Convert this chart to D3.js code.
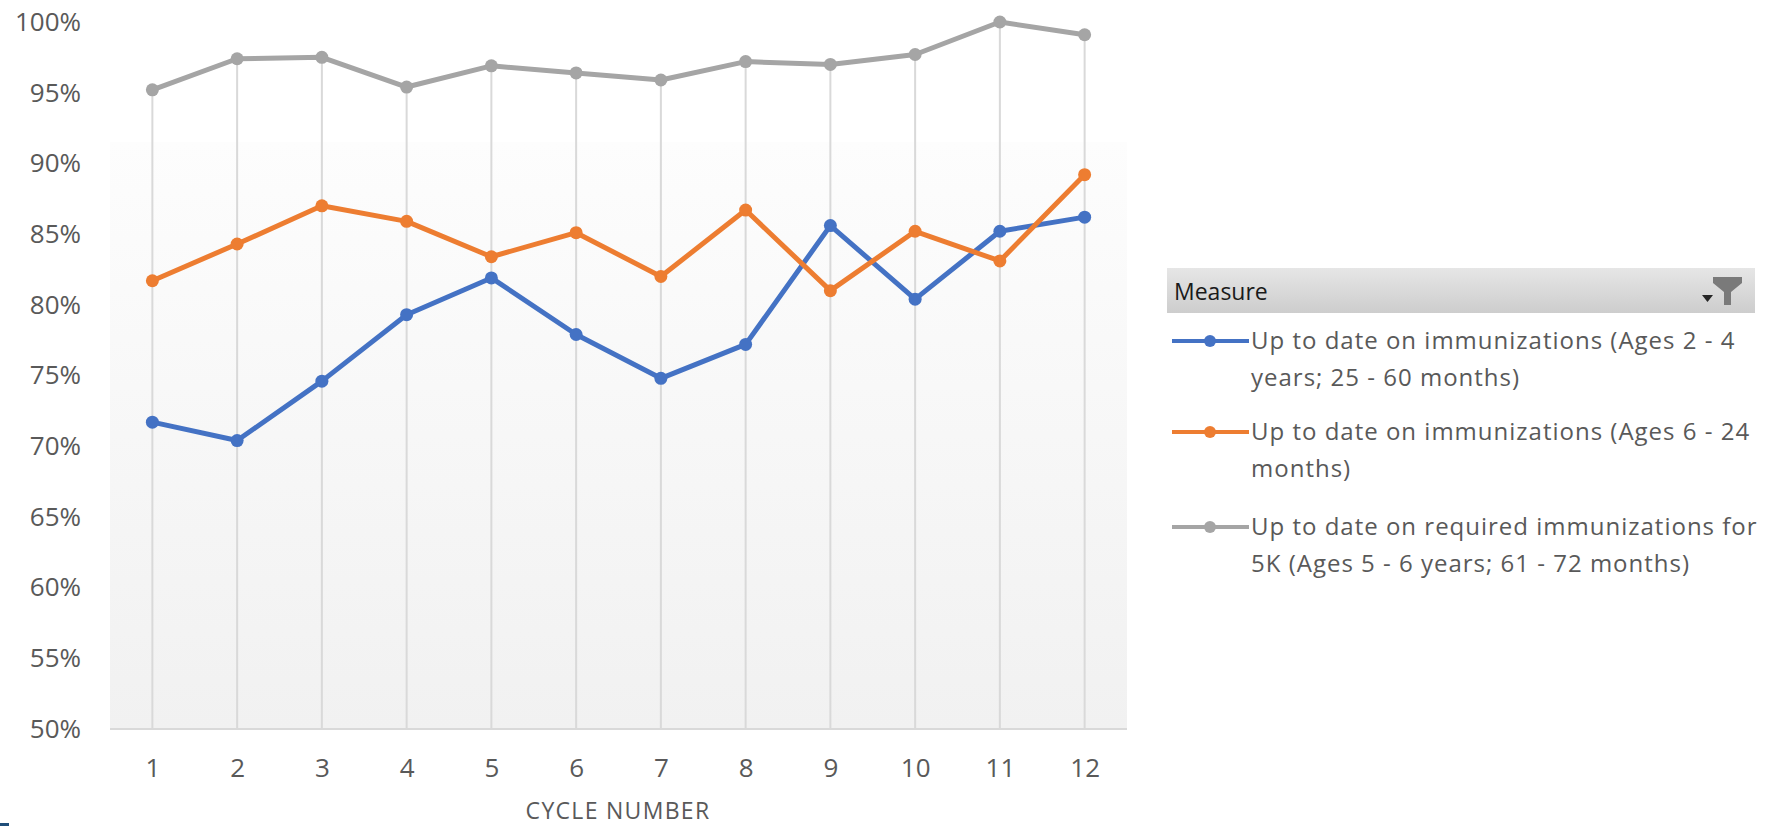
<!DOCTYPE html>
<html>
<head>
<meta charset="utf-8">
<script src="https://cdn.jsdelivr.net/npm/d3@7"></script>
<style>
  html, body { margin: 0; padding: 0; background: #fff; }
  svg { display: block; }
</style>
</head>
<body>
<div id="chart"></div>
<script>
const width = 1767;
const height = 826;

// values (share of children up to date)
const cycles = [1, 2, 3, 4, 5, 6, 7, 8, 9, 10, 11, 12];
const ages2to4 = [0.717, 0.704, 0.746, 0.793, 0.819, 0.779, 0.748, 0.772, 0.856, 0.804, 0.852, 0.862];
const ages6to24 = [0.817, 0.843, 0.870, 0.859, 0.834, 0.851, 0.820, 0.867, 0.810, 0.852, 0.831, 0.892];
const kindergarten = [0.952, 0.974, 0.975, 0.954, 0.969, 0.964, 0.959, 0.972, 0.970, 0.977, 1.0, 0.991];
const yTicks = [0.5, 0.55, 0.6, 0.65, 0.7, 0.75, 0.8, 0.85, 0.9, 0.95, 1.0];

const seriesNames = [
  ['Up to date on immunizations (Ages 2 - 4', 'years; 25 - 60 months)'],
  ['Up to date on immunizations (Ages 6 - 24', 'months)'],
  ['Up to date on required immunizations for', '5K (Ages 5 - 6 years; 61 - 72 months)'],
];
const seriesColors = ['#4472c4', '#ed7d31', '#a5a5a5'];
const seriesValues = [ages2to4, ages6to24, kindergarten];

const plot = { left: 110, right: 1127, top: 22, bottom: 729 };

const svg = d3.select('#chart').append('svg').attr('width', width).attr('height', height);

const x = d3.scalePoint().domain(cycles).range([plot.left, plot.right]).padding(0.5);
const y = d3.scaleLinear().domain([0.5, 1]).range([plot.bottom, plot.top]);

// plot area fill: white fading to light grey
const defs = svg.append('defs');
const bg = defs.append('linearGradient').attr('id', 'plot-bg').attr('x1', 0).attr('y1', 0).attr('x2', 0).attr('y2', 1);
bg.append('stop').attr('offset', '0%').attr('stop-color', '#fdfdfd');
bg.append('stop').attr('offset', '100%').attr('stop-color', '#f1f1f1');

const hdr = defs.append('linearGradient').attr('id', 'legend-hdr').attr('x1', 0).attr('y1', 0).attr('x2', 0).attr('y2', 1);
hdr.append('stop').attr('offset', '0%').attr('stop-color', '#e6e6e6');
hdr.append('stop').attr('offset', '100%').attr('stop-color', '#cdcdcd');

svg
  .append('rect')
  .attr('x', plot.left)
  .attr('y', 142)
  .attr('width', plot.right - plot.left)
  .attr('height', plot.bottom - 142)
  .attr('fill', 'url(#plot-bg)');

// drop lines from the highest point to the axis
const maxByCycle = cycles.map((c, i) => d3.max(seriesValues, (s) => s[i]));
svg
  .append('g')
  .selectAll('line')
  .data(cycles)
  .join('line')
  .attr('x1', (d) => x(d))
  .attr('x2', (d) => x(d))
  .attr('y1', (d, i) => y(maxByCycle[i]))
  .attr('y2', plot.bottom)
  .attr('stroke', '#d9d9d9')
  .attr('stroke-width', 2);

// axes
const yAxis = d3.axisLeft(y).tickValues(yTicks).tickFormat(d3.format('.0%')).tickSize(0).tickPadding(29);
const gy = svg.append('g').attr('transform', `translate(${plot.left},0)`).call(yAxis);
gy.select('.domain').remove();
gy.selectAll('text').attr('fill', '#595959').style('font-family', '"Open Sans", sans-serif').style('font-size', '26px');

const xAxis = d3.axisBottom(x).tickSize(0).tickPadding(30);
const gx = svg.append('g').attr('transform', `translate(0,${plot.bottom})`).call(xAxis);
gx.select('.domain').remove();
gx.selectAll('text').attr('fill', '#595959').style('font-family', '"Open Sans", sans-serif').style('font-size', '26px');

svg
  .append('line')
  .attr('x1', plot.left)
  .attr('x2', plot.right)
  .attr('y1', plot.bottom)
  .attr('y2', plot.bottom)
  .attr('stroke', '#d9d9d9')
  .attr('stroke-width', 2);

svg
  .append('text')
  .attr('x', 618)
  .attr('y', 819)
  .attr('text-anchor', 'middle')
  .attr('fill', '#595959')
  .style('font-family', '"Open Sans", sans-serif')
  .style('font-size', '23px')
  .style('letter-spacing', '1.3px')
  .text('CYCLE NUMBER');

// series lines and markers
const line = d3
  .line()
  .x((d, i) => x(cycles[i]))
  .y((d) => y(d));

seriesValues.forEach((vals, k) => {
  const g = svg.append('g');
  g.append('path')
    .datum(vals)
    .attr('fill', 'none')
    .attr('stroke', seriesColors[k])
    .attr('stroke-width', 5)
    .attr('stroke-linejoin', 'round')
    .attr('stroke-linecap', 'round')
    .attr('d', line);
  g.selectAll('circle')
    .data(vals)
    .join('circle')
    .attr('cx', (d, i) => x(cycles[i]))
    .attr('cy', (d) => y(d))
    .attr('r', 6.5)
    .attr('fill', seriesColors[k]);
});

// legend
const legend = svg.append('g');
legend
  .append('rect')
  .attr('x', 1167)
  .attr('y', 268)
  .attr('width', 588)
  .attr('height', 45)
  .attr('fill', 'url(#legend-hdr)');

legend
  .append('text')
  .attr('x', 1174)
  .attr('y', 300)
  .attr('fill', '#1a1a1a')
  .style('font-family', '"Open Sans", sans-serif')
  .style('font-size', '23px')
  .text('Measure');

// filter icon + dropdown arrow
legend.append('path').attr('d', 'M1713,277 L1742,277 L1742,283 L1731,292 L1731,305 L1724,305 L1724,292 L1713,283 Z').attr('fill', '#7a7a7a');
legend.append('path').attr('d', 'M1702,295 L1713,295 L1707.5,302 Z').attr('fill', '#262626');

const rowY = [341, 432, 527];
seriesNames.forEach((lines, k) => {
  const ry = rowY[k];
  legend
    .append('line')
    .attr('x1', 1172)
    .attr('x2', 1249)
    .attr('y1', ry)
    .attr('y2', ry)
    .attr('stroke', seriesColors[k])
    .attr('stroke-width', 4);
  legend.append('circle').attr('cx', 1210).attr('cy', ry).attr('r', 6).attr('fill', seriesColors[k]);
  const t = legend
    .append('text')
    .attr('x', 1251)
    .attr('y', ry + 8)
    .attr('fill', '#595959')
    .style('font-family', '"Open Sans", sans-serif')
    .style('font-size', '24px')
    .style('letter-spacing', '1px');
  lines.forEach((s, j) => {
    t.append('tspan').attr('x', 1251).attr('dy', j === 0 ? 0 : 37).text(s);
  });
});

// small mark at bottom-left corner of the capture
svg.append('rect').attr('x', 0).attr('y', 823).attr('width', 9).attr('height', 3).attr('fill', '#1f4e79');
</script>
</body>
</html>
